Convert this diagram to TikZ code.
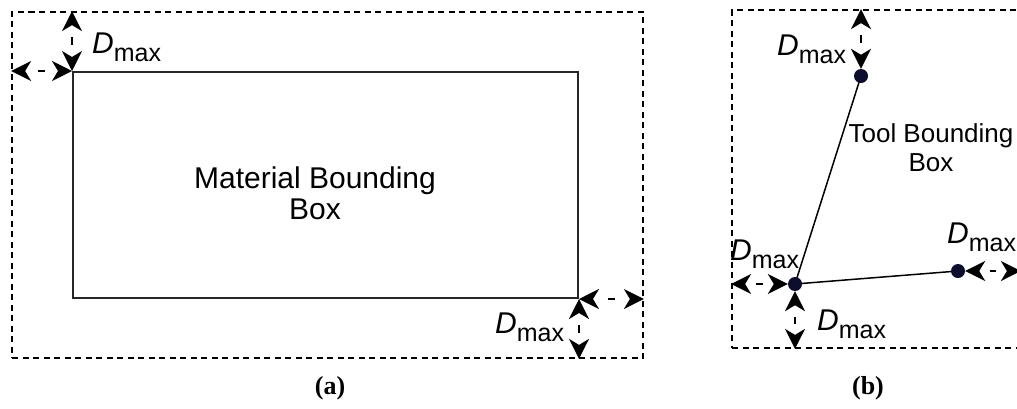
\documentclass[tikz,border=0pt]{standalone}
\usepackage{fontspec}
\setmainfont{Liberation Sans}
\newfontfamily\capfont{Liberation Serif}
\usetikzlibrary{arrows.meta}
\definecolor{dotc}{HTML}{0D0D2E}
\newcommand{\Dm}{{\fontsize{30}{30}\selectfont\textit{D}}\raisebox{-8.5pt}{\fontsize{25}{25}\selectfont max}}
\tikzset{
  dbox/.style={draw, dash pattern=on 6pt off 4.5pt, line width=1.8pt},
  solidbox/.style={draw=black!85, line width=2pt},
  darr/.style={line width=1.8pt, line cap=butt, dash pattern=on 0pt off 300pt,
    {Stealth[length=20pt,width=20pt,inset=6pt]}-{Stealth[length=20pt,width=20pt,inset=6pt]}},
  mdash/.style={line width=1.8pt, line cap=butt},
  lbl/.style={anchor=base west, inner sep=0pt},
  dot/.style={circle, fill=dotc, minimum size=14pt, inner sep=0pt},
  tline/.style={line width=1.5pt, black},
  txt/.style={align=center, inner sep=0pt, text=black},
  captxt/.style={anchor=base, inner sep=0pt, font=\capfont\bfseries\fontsize{26}{26}\selectfont},
}
\begin{document}
\begin{tikzpicture}[x=1pt,y=-1pt]
\useasboundingbox (0,0) rectangle (1017,408);
\clip (0,0) rectangle (1017,408);
% (a)
\node[dbox, minimum width=631pt, minimum height=346pt, inner sep=0pt] (outa) at (327.5,185) {};
\node[solidbox, minimum width=505pt, minimum height=226pt, inner sep=0pt] (mat) at (325.5,185) {};
\node[txt, font=\fontsize{30}{31}\selectfont] (mattxt) at (315,193) {Material Bounding\\Box};
\draw[darr] (mat.north west |- outa.north) -- coordinate[pos=0.44] (a1s) coordinate[pos=0.56] (a1e) (mat.north west);
\draw[mdash] (a1s) -- (a1e);
\draw[darr] (outa.west |- mat.north west) -- coordinate[pos=0.44] (a2s) coordinate[pos=0.56] (a2e) (mat.north west);
\draw[mdash] (a2s) -- (a2e);
\draw[darr] (mat.south east) -- coordinate[pos=0.44] (a3s) coordinate[pos=0.56] (a3e) (mat.south east -| outa.east);
\draw[mdash] (a3s) -- (a3e);
\draw[darr] (mat.south east) -- coordinate[pos=0.44] (a4s) coordinate[pos=0.56] (a4e) (mat.south east |- outa.south);
\draw[mdash] (a4s) -- (a4e);
\node[lbl] (la1) at (92,53) {\Dm};
\node[lbl] (la2) at (495,333) {\Dm};
\node[captxt] (capa) at (330,394) {(a)};
% (b)
\node[dbox, minimum width=288pt, minimum height=338pt, inner sep=0pt] (outb) at (876,179) {};
\coordinate (p1) at (861,76);
\coordinate (p2) at (795,284);
\coordinate (p3) at (958,271);
\draw[tline] (p1) -- (p2) -- (p3);
\node[dot] (d1) at (p1) {};
\node[dot] (d2) at (p2) {};
\node[dot] (d3) at (p3) {};
\node[txt, font=\fontsize{26}{29}\selectfont] (tooltxt) at (931,148) {Tool Bounding\\Box};
\draw[darr] (d1 |- outb.north) -- coordinate[pos=0.44] (b1s) coordinate[pos=0.56] (b1e) (d1.north);
\draw[mdash] (b1s) -- (b1e);
\draw[darr] (outb.west |- d2) -- coordinate[pos=0.44] (b2s) coordinate[pos=0.56] (b2e) (d2.west);
\draw[mdash] (b2s) -- (b2e);
\draw[darr] (d2.south) -- coordinate[pos=0.44] (b3s) coordinate[pos=0.56] (b3e) (d2 |- outb.south);
\draw[mdash] (b3s) -- (b3e);
\draw[darr] (d3.east) -- coordinate[pos=0.44] (b4s) coordinate[pos=0.56] (b4e) (d3 -| outb.east);
\draw[mdash] (b4s) -- (b4e);
\node[lbl] (lb1) at (777,55) {\Dm};
\node[lbl] (lb2) at (730,260) {\Dm};
\node[lbl] (lb3) at (817,330) {\Dm};
\node[lbl] (lb4) at (947,243) {\Dm};
\node[captxt] (capb) at (868,394) {(b)};
\end{tikzpicture}
\end{document}
